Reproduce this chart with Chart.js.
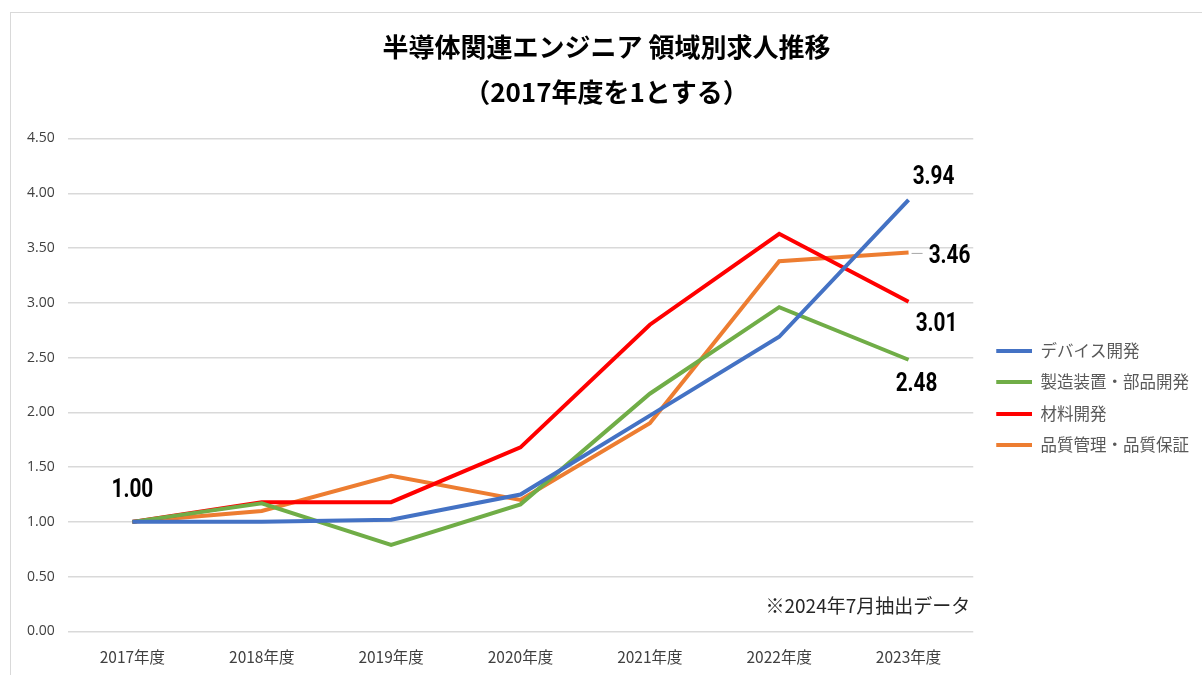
<!DOCTYPE html>
<html>
<head>
<meta charset="utf-8">
<script src="https://cdn.jsdelivr.net/npm/chart.js@4"></script>
<style>
    html, body { margin: 0; padding: 0; background: #fff; }
    #frame { position: absolute; left: 10px; top: 12px; width: 1200px; height: 670px; border: 1px solid #d9d9d9; }
    #wrap { position: absolute; left: 0; top: 0; width: 1202px; height: 675px; }
</style>
</head>
<body>
<div id="frame"></div>
<div id="wrap"><canvas id="chart"></canvas></div>
<script>
const years = ['2017年度', '2018年度', '2019年度', '2020年度', '2021年度', '2022年度', '2023年度'];
const seriesNames = ['デバイス開発', '製造装置・部品開発', '材料開発', '品質管理・品質保証'];
const deviceDev = [1.00, 1.00, 1.02, 1.25, 1.97, 2.69, 3.94];
const equipParts = [1.00, 1.17, 0.79, 1.16, 2.17, 2.96, 2.48];
const materialDev = [1.00, 1.18, 1.18, 1.68, 2.80, 3.63, 3.01];
const qualityAssur = [1.00, 1.10, 1.42, 1.20, 1.90, 3.38, 3.46];
const colors = ['#4472C4', '#70AD47', '#FF0000', '#ED7D31'];

// which points get a value label, and where it sits relative to the point
const valueLabels = [
    { ds: 0, i: 0, dx: 0, dy: -31 },
    { ds: 0, i: 6, dx: 25, dy: -22 },
    { ds: 3, i: 6, dx: 41, dy: 4, leader: true },
    { ds: 2, i: 6, dx: 28, dy: 23 },
    { ds: 1, i: 6, dx: 8, dy: 25 }
];
const note = '※2024年7月抽出データ';

const jpFont = "'Noto Sans CJK JP', 'Noto Sans', sans-serif";
const numFont = "'Roboto', 'Noto Sans', sans-serif";

// legend swatch: short thick line with a little blank space on its left
function legendSwatch(color) {
    const c = document.createElement('canvas');
    c.width = 44;
    c.height = 4;
    const g = c.getContext('2d');
    g.fillStyle = color;
    g.fillRect(8, 0, 36, 4);
    return c;
}

const labelPlugin = {
    id: 'valueLabels',
    afterDatasetsDraw(chart) {
        const ctx = chart.ctx;
        ctx.save();
        for (const lbl of valueLabels) {
            const pt = chart.getDatasetMeta(lbl.ds).data[lbl.i];
            const value = chart.data.datasets[lbl.ds].data[lbl.i];
            if (lbl.leader) {
                ctx.strokeStyle = '#a6a6a6';
                ctx.lineWidth = 1;
                ctx.beginPath();
                ctx.moveTo(pt.x + 3, pt.y + 1);
                ctx.lineTo(pt.x + 14, pt.y + 1);
                ctx.stroke();
            }
            // narrow the bold digits a bit, like a condensed face
            ctx.save();
            ctx.translate(pt.x + lbl.dx, pt.y + lbl.dy);
            ctx.scale(0.8, 1);
            ctx.font = `bold 26px ${numFont}`;
            ctx.fillStyle = '#000';
            ctx.textAlign = 'center';
            ctx.textBaseline = 'middle';
            ctx.fillText(value.toFixed(2), 0, 0);
            ctx.restore();
        }
        // footnote in the lower right of the plot
        const area = chart.chartArea;
        ctx.font = `19px ${jpFont}`;
        ctx.fillStyle = '#262626';
        ctx.textAlign = 'right';
        ctx.textBaseline = 'middle';
        ctx.fillText(note, area.right - 3, area.bottom - 26);
        ctx.restore();
    }
};

new Chart(document.getElementById('chart'), {
    type: 'line',
    data: {
        labels: years,
        datasets: [deviceDev, equipParts, materialDev, qualityAssur].map((values, k) => ({
            label: seriesNames[k],
            data: values,
            borderColor: colors[k],
            backgroundColor: colors[k],
            borderWidth: 4,
            pointRadius: 0,
            pointStyle: legendSwatch(colors[k]),
            tension: 0
        }))
    },
    options: {
        responsive: true,
        maintainAspectRatio: false,
        animation: false,
        layout: { padding: { left: 14, right: 3, top: 0, bottom: -7 } },
        scales: {
            x: {
                offset: true,
                grid: { display: false, drawTicks: false },
                border: { display: false },
                ticks: { font: { size: 15.5, family: jpFont }, color: '#404040', padding: 16 }
            },
            y: {
                min: 0,
                max: 4.5,
                grid: { color: '#d9d9d9', lineWidth: 1.5, drawTicks: false },
                border: { display: false },
                ticks: {
                    stepSize: 0.5,
                    padding: 13,
                    font: { size: 14, family: "'Open Sans', sans-serif" },
                    color: '#404040',
                    callback: v => v.toFixed(2)
                }
            }
        },
        plugins: {
            title: {
                display: true,
                text: ['半導体関連エンジニア 領域別求人推移', '（2017年度を1とする）'],
                font: { size: 26, weight: 'bold', family: jpFont, lineHeight: 45 / 26 },
                color: '#000',
                padding: { top: 24.5, bottom: 24 }
            },
            legend: {
                position: 'right',
                align: 'start',
                title: { display: true, text: ' ', padding: { top: 313, bottom: 0 } },
                labels: {
                    usePointStyle: true,
                    pointStyleWidth: 44,
                    padding: 15,
                    color: '#595959',
                    font: { size: 16.5, family: jpFont }
                }
            },
            tooltip: { enabled: false }
        }
    },
    plugins: [labelPlugin]
});
</script>
</body>
</html>
